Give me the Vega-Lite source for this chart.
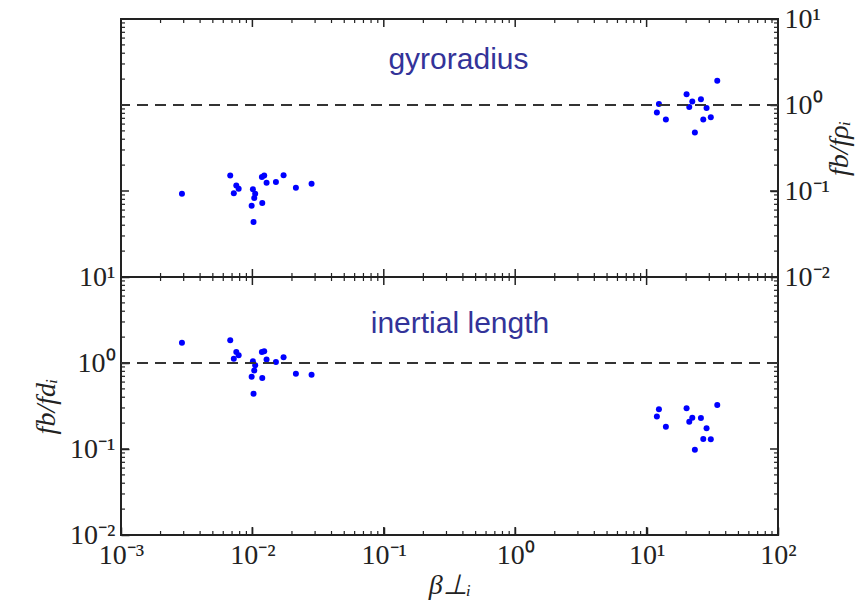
{
  "$schema": "https://vega.github.io/schema/vega-lite/v6.json",
  "background": "white",
  "padding": {"left": 31, "top": 4, "right": 5, "bottom": 2},
  "spacing": 0,
  "bounds": "flush",
  "config": {
    "view": {"stroke": "#222222", "strokeWidth": 2},
    "axis": {
      "domain": false,
      "grid": false,
      "ticks": true,
      "labelFont": "Liberation Serif",
      "labelFontSize": 28,
      "labelColor": "#222222",
      "tickColor": "#222222",
      "tickWidth": 1.5,
      "titleFont": "Liberation Serif",
      "titleFontSize": 28,
      "titleFontWeight": "normal",
      "titleFontStyle": "italic",
      "titleColor": "#222222",
      "labelOverlap": false,
      "labelBound": false,
      "labelFlush": false
    }
  },
  "datasets": {
    "gyro": [
      {"beta": 0.00291, "ratio": 0.093}, {"beta": 0.00678, "ratio": 0.151}, {"beta": 0.00754, "ratio": 0.116},
      {"beta": 0.00786, "ratio": 0.106}, {"beta": 0.00722, "ratio": 0.094}, {"beta": 0.01009, "ratio": 0.105},
      {"beta": 0.0105, "ratio": 0.093}, {"beta": 0.01033, "ratio": 0.083}, {"beta": 0.00987, "ratio": 0.0675},
      {"beta": 0.0102, "ratio": 0.0436}, {"beta": 0.01189, "ratio": 0.0725}, {"beta": 0.01181, "ratio": 0.1455},
      {"beta": 0.0123, "ratio": 0.151}, {"beta": 0.01282, "ratio": 0.125}, {"beta": 0.0151, "ratio": 0.127},
      {"beta": 0.01727, "ratio": 0.152}, {"beta": 0.02143, "ratio": 0.109}, {"beta": 0.0282, "ratio": 0.1216},
      {"beta": 12.41, "ratio": 1.03}, {"beta": 11.97, "ratio": 0.82}, {"beta": 14.02, "ratio": 0.68},
      {"beta": 20.15, "ratio": 1.33}, {"beta": 22.27, "ratio": 1.10}, {"beta": 21.12, "ratio": 0.95},
      {"beta": 25.9, "ratio": 1.17}, {"beta": 28.6, "ratio": 0.92}, {"beta": 27.0, "ratio": 0.68},
      {"beta": 30.8, "ratio": 0.72}, {"beta": 23.3, "ratio": 0.48}, {"beta": 34.5, "ratio": 1.92}
    ],
    "inertial": [
      {"beta": 0.00291, "ratio": 1.72}, {"beta": 0.00678, "ratio": 1.84}, {"beta": 0.00754, "ratio": 1.34},
      {"beta": 0.00786, "ratio": 1.23}, {"beta": 0.00722, "ratio": 1.12}, {"beta": 0.01009, "ratio": 1.05},
      {"beta": 0.0105, "ratio": 0.94}, {"beta": 0.01033, "ratio": 0.82}, {"beta": 0.00987, "ratio": 0.69},
      {"beta": 0.0102, "ratio": 0.44}, {"beta": 0.01189, "ratio": 0.67}, {"beta": 0.01181, "ratio": 1.34},
      {"beta": 0.0123, "ratio": 1.37}, {"beta": 0.01282, "ratio": 1.10}, {"beta": 0.0151, "ratio": 1.03},
      {"beta": 0.01727, "ratio": 1.17}, {"beta": 0.02143, "ratio": 0.75}, {"beta": 0.0282, "ratio": 0.73},
      {"beta": 12.41, "ratio": 0.290}, {"beta": 11.97, "ratio": 0.238}, {"beta": 14.02, "ratio": 0.182},
      {"beta": 20.15, "ratio": 0.297}, {"beta": 22.27, "ratio": 0.231}, {"beta": 21.12, "ratio": 0.208},
      {"beta": 25.9, "ratio": 0.229}, {"beta": 28.6, "ratio": 0.174}, {"beta": 27.0, "ratio": 0.131},
      {"beta": 30.8, "ratio": 0.130}, {"beta": 23.3, "ratio": 0.098}, {"beta": 34.5, "ratio": 0.325}
    ],
    "xMajor": [{"beta": 0.001}, {"beta": 0.01}, {"beta": 0.1}, {"beta": 1}, {"beta": 10}, {"beta": 100}],
    "xMinor": [
      {"beta": 0.002}, {"beta": 0.003}, {"beta": 0.004}, {"beta": 0.005}, {"beta": 0.006}, {"beta": 0.007}, {"beta": 0.008}, {"beta": 0.009},
      {"beta": 0.02}, {"beta": 0.03}, {"beta": 0.04}, {"beta": 0.05}, {"beta": 0.06}, {"beta": 0.07}, {"beta": 0.08}, {"beta": 0.09},
      {"beta": 0.2}, {"beta": 0.3}, {"beta": 0.4}, {"beta": 0.5}, {"beta": 0.6}, {"beta": 0.7}, {"beta": 0.8}, {"beta": 0.9},
      {"beta": 2}, {"beta": 3}, {"beta": 4}, {"beta": 5}, {"beta": 6}, {"beta": 7}, {"beta": 8}, {"beta": 9},
      {"beta": 20}, {"beta": 30}, {"beta": 40}, {"beta": 50}, {"beta": 60}, {"beta": 70}, {"beta": 80}, {"beta": 90}
    ],
    "yMajor": [{"ratio": 0.01}, {"ratio": 0.1}, {"ratio": 1}, {"ratio": 10}],
    "yMinor": [
      {"ratio": 0.02}, {"ratio": 0.03}, {"ratio": 0.04}, {"ratio": 0.05}, {"ratio": 0.06}, {"ratio": 0.07}, {"ratio": 0.08}, {"ratio": 0.09},
      {"ratio": 0.2}, {"ratio": 0.3}, {"ratio": 0.4}, {"ratio": 0.5}, {"ratio": 0.6}, {"ratio": 0.7}, {"ratio": 0.8}, {"ratio": 0.9},
      {"ratio": 2}, {"ratio": 3}, {"ratio": 4}, {"ratio": 5}, {"ratio": 6}, {"ratio": 7}, {"ratio": 8}, {"ratio": 9}
    ],
    "corner": [{"beta": 0.001, "ratio": 0.01}],
    "unity": [{"ratio": 1}],
    "gyroLabel": [{"beta": 0.37, "ratio": 2.62, "name": "gyroradius"}],
    "inertialLabel": [{"beta": 0.38, "ratio": 2.23, "name": "inertial length"}]
  },
  "vconcat": [
    {
      "width": 657,
      "height": 258,
      "resolve": {"axis": {"x": "independent", "y": "independent"}},
      "layer": [
        {
          "data": {"name": "gyro"},
          "mark": {"type": "circle", "color": "#0000ff", "opacity": 1, "size": 36},
          "encoding": {
            "x": {"field": "beta", "type": "quantitative",
                  "scale": {"type": "log", "domain": [0.001, 100], "nice": false}, "axis": null},
            "y": {"field": "ratio", "type": "quantitative",
                  "scale": {"type": "log", "domain": [0.01, 10], "nice": false}, "axis": null}
          }
        },
        {
          "data": {"name": "corner"},
          "mark": {"type": "point", "opacity": 0},
          "encoding": {
            "x": {"field": "beta", "type": "quantitative", "axis": null},
            "y": {"field": "ratio", "type": "quantitative",
                  "axis": {"orient": "right", "title": "fb/fρᵢ", "titleAngle": 270, "titlePadding": 24,
                           "values": [0.01, 0.1, 1, 10], "tickSize": 8, "offset": -8, "labelPadding": 6,
                           "labelExpr": "'10' + (datum.value < 1 ? '⁻' : '') + ['⁰','¹','²','³'][abs(round(log(datum.value)/LN10))]"}}
          }
        },
        {"data": {"name": "xMajor"}, "mark": {"type": "rule", "strokeWidth": 1.5, "color": "#222222"},
         "encoding": {"x": {"field": "beta", "type": "quantitative", "axis": null}, "y": {"datum": 10, "type": "quantitative", "axis": null}, "y2": {"datum": 8.07}}},
        {"data": {"name": "xMajor"}, "mark": {"type": "rule", "strokeWidth": 1.5, "color": "#222222"},
         "encoding": {"x": {"field": "beta", "type": "quantitative", "axis": null}, "y": {"datum": 0.01, "type": "quantitative", "axis": null}, "y2": {"datum": 0.01239}}},
        {"data": {"name": "xMinor"}, "mark": {"type": "rule", "strokeWidth": 1.2, "color": "#222222"},
         "encoding": {"x": {"field": "beta", "type": "quantitative", "axis": null}, "y": {"datum": 10, "type": "quantitative", "axis": null}, "y2": {"datum": 8.98}}},
        {"data": {"name": "xMinor"}, "mark": {"type": "rule", "strokeWidth": 1.2, "color": "#222222"},
         "encoding": {"x": {"field": "beta", "type": "quantitative", "axis": null}, "y": {"datum": 0.01, "type": "quantitative", "axis": null}, "y2": {"datum": 0.01113}}},
        {"data": {"name": "yMajor"}, "mark": {"type": "rule", "strokeWidth": 1.5, "color": "#222222"},
         "encoding": {"y": {"field": "ratio", "type": "quantitative", "axis": null}, "x": {"datum": 0.001, "type": "quantitative", "axis": null}, "x2": {"datum": 0.00115}}},
        {"data": {"name": "yMajor"}, "mark": {"type": "rule", "strokeWidth": 1.5, "color": "#222222"},
         "encoding": {"y": {"field": "ratio", "type": "quantitative", "axis": null}, "x": {"datum": 100, "type": "quantitative", "axis": null}, "x2": {"datum": 86.96}}},
        {"data": {"name": "yMinor"}, "mark": {"type": "rule", "strokeWidth": 1.2, "color": "#222222"},
         "encoding": {"y": {"field": "ratio", "type": "quantitative", "axis": null}, "x": {"datum": 0.001, "type": "quantitative", "axis": null}, "x2": {"datum": 0.001073}}},
        {"data": {"name": "yMinor"}, "mark": {"type": "rule", "strokeWidth": 1.2, "color": "#222222"},
         "encoding": {"y": {"field": "ratio", "type": "quantitative", "axis": null}, "x": {"datum": 100, "type": "quantitative", "axis": null}, "x2": {"datum": 93.24}}},
        {
          "data": {"name": "unity"},
          "mark": {"type": "rule", "color": "#333333", "strokeWidth": 2, "strokeDash": [11, 7]},
          "encoding": {
            "y": {"field": "ratio", "type": "quantitative", "axis": null}
          }
        },
        {
          "data": {"name": "gyroLabel"},
          "mark": {"type": "text", "font": "Liberation Sans", "fontSize": 30, "color": "#333399", "align": "center", "baseline": "alphabetic"},
          "encoding": {
            "x": {"field": "beta", "type": "quantitative", "axis": null},
            "y": {"field": "ratio", "type": "quantitative", "axis": null},
            "text": {"field": "name"}
          }
        }
      ]
    },
    {
      "width": 657,
      "height": 258,
      "resolve": {"axis": {"x": "independent", "y": "independent"}},
      "layer": [
        {
          "data": {"name": "inertial"},
          "mark": {"type": "circle", "color": "#0000ff", "opacity": 1, "size": 36},
          "encoding": {
            "x": {"field": "beta", "type": "quantitative",
                  "scale": {"type": "log", "domain": [0.001, 100], "nice": false},
                  "axis": {"orient": "bottom", "title": "β⊥ᵢ", "titlePadding": 2,
                           "values": [0.001, 0.01, 0.1, 1, 10, 100], "tickSize": 8, "offset": -8, "labelPadding": 6,
                           "labelExpr": "'10' + (datum.value < 1 ? '⁻' : '') + ['⁰','¹','²','³'][abs(round(log(datum.value)/LN10))]"}},
            "y": {"field": "ratio", "type": "quantitative",
                  "scale": {"type": "log", "domain": [0.01, 10], "nice": false},
                  "axis": {"orient": "left", "title": "fb/fdᵢ", "titlePadding": 9,
                           "values": [0.01, 0.1, 1, 10], "tickSize": 8, "offset": -8, "labelPadding": 6,
                           "labelExpr": "'10' + (datum.value < 1 ? '⁻' : '') + ['⁰','¹','²','³'][abs(round(log(datum.value)/LN10))]"}}
          }
        },
        {"data": {"name": "xMajor"}, "mark": {"type": "rule", "strokeWidth": 1.5, "color": "#222222"},
         "encoding": {"x": {"field": "beta", "type": "quantitative", "axis": null}, "y": {"datum": 10, "type": "quantitative", "axis": null}, "y2": {"datum": 8.07}}},
        {"data": {"name": "xMajor"}, "mark": {"type": "rule", "strokeWidth": 1.5, "color": "#222222"},
         "encoding": {"x": {"field": "beta", "type": "quantitative", "axis": null}, "y": {"datum": 0.01, "type": "quantitative", "axis": null}, "y2": {"datum": 0.01239}}},
        {"data": {"name": "xMinor"}, "mark": {"type": "rule", "strokeWidth": 1.2, "color": "#222222"},
         "encoding": {"x": {"field": "beta", "type": "quantitative", "axis": null}, "y": {"datum": 10, "type": "quantitative", "axis": null}, "y2": {"datum": 8.98}}},
        {"data": {"name": "xMinor"}, "mark": {"type": "rule", "strokeWidth": 1.2, "color": "#222222"},
         "encoding": {"x": {"field": "beta", "type": "quantitative", "axis": null}, "y": {"datum": 0.01, "type": "quantitative", "axis": null}, "y2": {"datum": 0.01113}}},
        {"data": {"name": "yMajor"}, "mark": {"type": "rule", "strokeWidth": 1.5, "color": "#222222"},
         "encoding": {"y": {"field": "ratio", "type": "quantitative", "axis": null}, "x": {"datum": 0.001, "type": "quantitative", "axis": null}, "x2": {"datum": 0.00115}}},
        {"data": {"name": "yMajor"}, "mark": {"type": "rule", "strokeWidth": 1.5, "color": "#222222"},
         "encoding": {"y": {"field": "ratio", "type": "quantitative", "axis": null}, "x": {"datum": 100, "type": "quantitative", "axis": null}, "x2": {"datum": 86.96}}},
        {"data": {"name": "yMinor"}, "mark": {"type": "rule", "strokeWidth": 1.2, "color": "#222222"},
         "encoding": {"y": {"field": "ratio", "type": "quantitative", "axis": null}, "x": {"datum": 0.001, "type": "quantitative", "axis": null}, "x2": {"datum": 0.001073}}},
        {"data": {"name": "yMinor"}, "mark": {"type": "rule", "strokeWidth": 1.2, "color": "#222222"},
         "encoding": {"y": {"field": "ratio", "type": "quantitative", "axis": null}, "x": {"datum": 100, "type": "quantitative", "axis": null}, "x2": {"datum": 93.24}}},
        {
          "data": {"name": "unity"},
          "mark": {"type": "rule", "color": "#333333", "strokeWidth": 2, "strokeDash": [11, 7]},
          "encoding": {
            "y": {"field": "ratio", "type": "quantitative", "axis": null}
          }
        },
        {
          "data": {"name": "inertialLabel"},
          "mark": {"type": "text", "font": "Liberation Sans", "fontSize": 30, "color": "#333399", "align": "center", "baseline": "alphabetic"},
          "encoding": {
            "x": {"field": "beta", "type": "quantitative", "axis": null},
            "y": {"field": "ratio", "type": "quantitative", "axis": null},
            "text": {"field": "name"}
          }
        }
      ]
    }
  ]
}
